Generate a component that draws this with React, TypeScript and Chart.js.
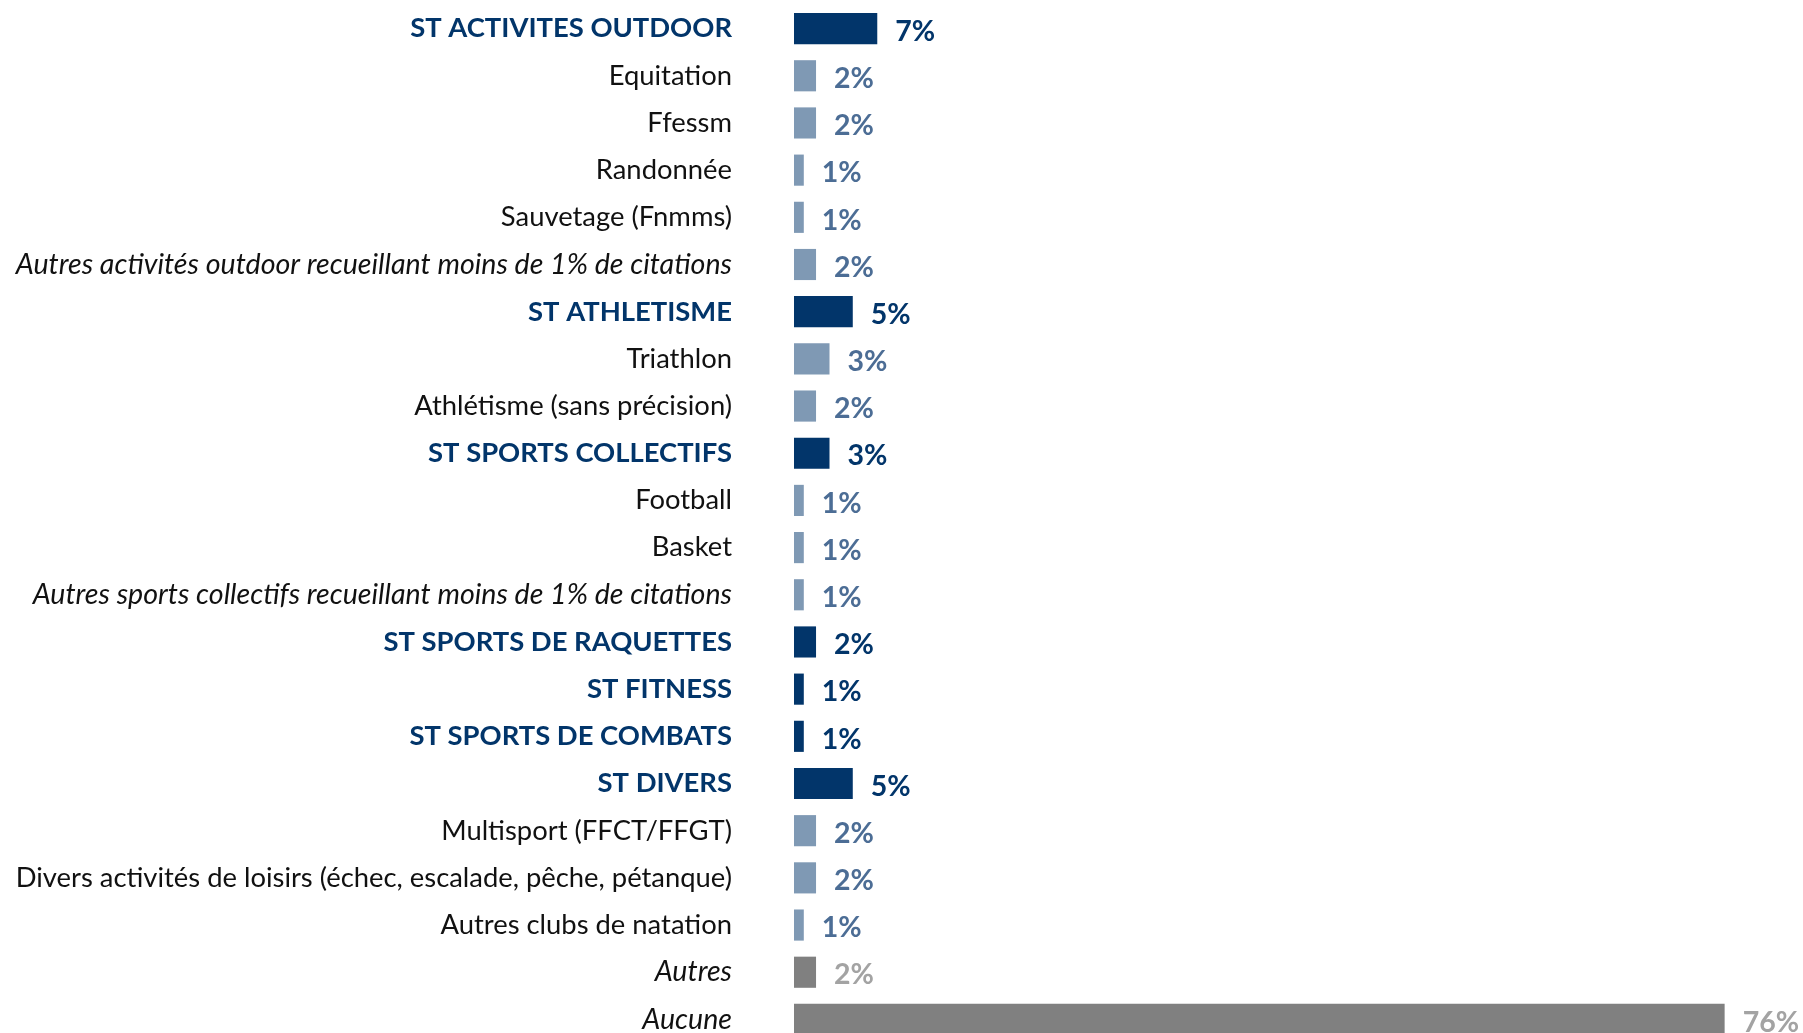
import React, { useEffect, useRef } from "react";
import { Chart, registerables } from "chart.js";

Chart.register(...registerables);

const categories: string[] = [
  "ST ACTIVITES OUTDOOR",
  "Equitation",
  "Ffessm",
  "Randonnée",
  "Sauvetage (Fnmms)",
  "Autres activités outdoor recueillant moins de 1% de citations",
  "ST ATHLETISME",
  "Triathlon",
  "Athlétisme (sans précision)",
  "ST SPORTS COLLECTIFS",
  "Football",
  "Basket",
  "Autres sports collectifs recueillant moins de 1% de citations",
  "ST SPORTS DE RAQUETTES",
  "ST FITNESS",
  "ST SPORTS DE COMBATS",
  "ST DIVERS",
  "Multisport (FFCT/FFGT)",
  "Divers activités de loisirs (échec, escalade, pêche, pétanque)",
  "Autres clubs de natation",
  "Autres",
  "Aucune",
];

const values: number[] = [
  6.8, 1.8, 1.8, 0.8, 0.8, 1.8, 4.8, 2.9, 1.8, 2.9, 0.8, 0.8, 0.8, 1.8, 0.8, 0.8,
  4.8, 1.8, 1.8, 0.8, 1.8, 76.0,
];

const valueLabels: string[] = [
  "7%", "2%", "2%", "1%", "1%", "2%", "5%", "3%", "2%", "3%", "1%", "1%", "1%",
  "2%", "1%", "1%", "5%", "2%", "2%", "1%", "2%", "76%",
];

// row kind: h = sous-total, s = détail, si = détail italique, g = autres/aucune (italique gris)
const rowKinds: string[] = [
  "h", "s", "s", "s", "s", "si", "h", "s", "s", "h", "s", "s", "si", "h", "h", "h",
  "h", "s", "s", "s", "g", "g",
];

const NAVY = "#02356A";
const LIGHT_BAR = "#7F99B4";
const LIGHT_TEXT = "#4C6D95";
const GRAY_BAR = "#808080";
const GRAY_TEXT = "#A3A3A3";
const FONT = "Lato";
const LABEL_SIZE = 27.4;
const ITALIC_SIZE = 28.6;
const VALUE_SIZE = 28.5;

const barColor = (k: string) => (k === "h" ? NAVY : k === "g" ? GRAY_BAR : LIGHT_BAR);
const valueColor = (k: string) => (k === "h" ? NAVY : k === "g" ? GRAY_TEXT : LIGHT_TEXT);

export default function App() {
  const ref = useRef<HTMLCanvasElement | null>(null);

  useEffect(() => {
    document.body.style.margin = "0";
    const canvas = ref.current;
    if (!canvas) return;

    const valuePlugin = {
      id: "valueLabels",
      afterDatasetsDraw(chart: any) {
        const ctx = chart.ctx;
        const meta = chart.getDatasetMeta(0);
        ctx.save();
        ctx.textAlign = "left";
        ctx.textBaseline = "middle";
        meta.data.forEach((bar: any, i: number) => {
          ctx.font = `bold ${VALUE_SIZE}px ${FONT}`;
          ctx.fillStyle = valueColor(rowKinds[i]);
          ctx.fillText(valueLabels[i], bar.x + 18, bar.y + 3);
        });
        ctx.restore();
      },
    };

    const chart = new Chart(canvas, {
      type: "bar",
      data: {
        labels: categories,
        datasets: [
          {
            data: values,
            backgroundColor: rowKinds.map(barColor),
            borderWidth: 0,
            barPercentage: 1,
            categoryPercentage: 0.66,
          },
        ],
      },
      options: {
        indexAxis: "y",
        responsive: false,
        animation: false,
        layout: { padding: { top: 5, bottom: 2, left: 0, right: 0 } },
        plugins: {
          legend: { display: false },
          tooltip: { enabled: false },
        },
        scales: {
          x: {
            display: false,
            min: 0,
            max: 82.4,
          },
          y: {
            offset: true,
            border: { display: false },
            grid: { display: false, drawTicks: false },
            afterFit(scale: any) {
              scale.width = 794;
              scale.paddingTop = 0;
              scale.paddingBottom = 0;
            },
            ticks: {
              padding: 62,
              autoSkip: false,
              color: (c: any) => (rowKinds[c.index] === "h" ? NAVY : "#111111"),
              font: (c: any) => {
                const k = rowKinds[c.index];
                const italic = k === "si" || k === "g";
                return {
                  family: FONT,
                  size: italic ? ITALIC_SIZE : LABEL_SIZE,
                  weight: k === "h" ? "bold" : "normal",
                  style: italic ? "italic" : "normal",
                };
              },
            },
          },
        },
      },
      plugins: [valuePlugin],
    });

    return () => chart.destroy();
  }, []);

  return (
    <div
      style={{
        position: "fixed",
        left: 0,
        top: 0,
        width: 1803,
        height: 1033,
        overflow: "hidden",
        background: "#ffffff",
      }}
    >
      <canvas ref={ref} width={1803} height={1045} style={{ display: "block" }} />
    </div>
  );
}
